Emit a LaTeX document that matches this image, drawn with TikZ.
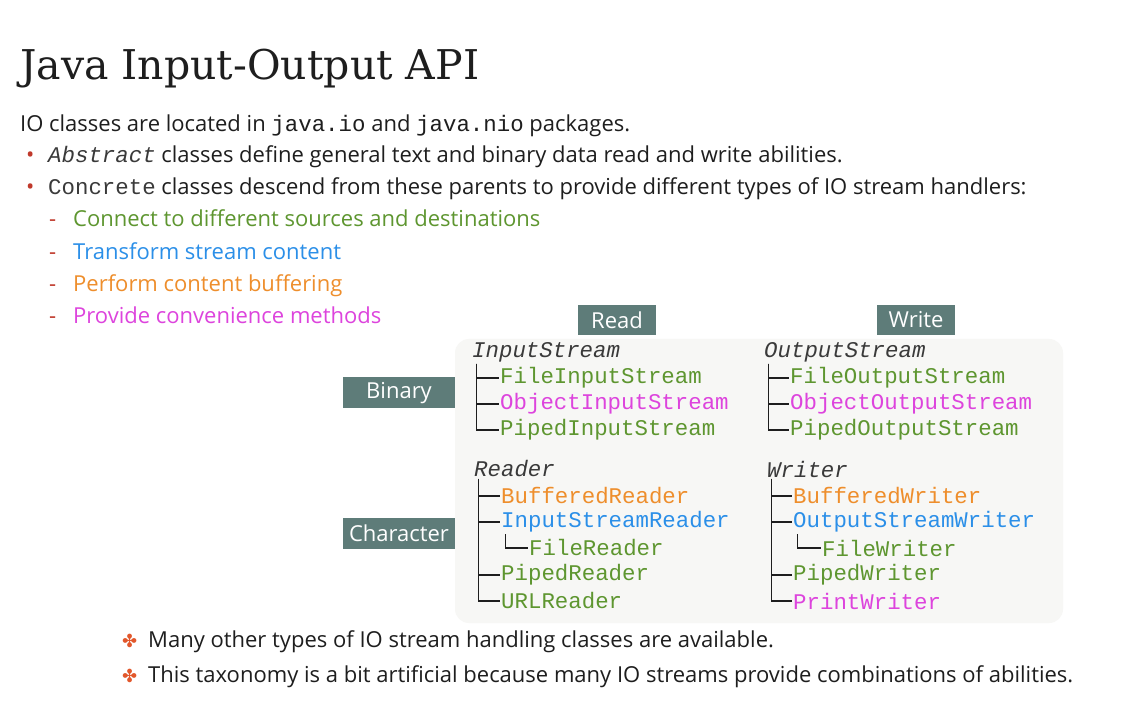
\documentclass[tikz,border=0pt]{standalone}
\usepackage{fontspec}
\newfontfamily\slidefont{Open Sans}
\newfontfamily\codefont{Liberation Mono}
\newfontfamily\titlefont{DejaVu Serif}
\newfontfamily\symfont{DejaVu Sans}

\definecolor{ink}{HTML}{1E1E1E}
\definecolor{codegray}{HTML}{3A3A3A}
\definecolor{slate}{HTML}{5E7C79}
\definecolor{panel}{HTML}{F7F7F5}
\definecolor{bulletred}{HTML}{C0392B}
\definecolor{starred}{HTML}{E2572B}
\definecolor{grn}{HTML}{5E9630}
\definecolor{blu}{HTML}{2B8FE8}
\definecolor{org}{HTML}{EE8E2C}
\definecolor{mag}{HTML}{DD44DD}

\newcommand{\code}[1]{{\codefont\fontsize{22.4}{26}\selectfont #1}}

\begin{document}
\begin{tikzpicture}[x=1pt,y=-1pt]

	\tikzset{txt/.style={
				anchor=base west,inner sep=0pt,text=ink,
				font=\slidefont\fontsize{22}{26}\selectfont}
	}
	\tikzset{hdr/.style={
				fill=slate,text=white,inner sep=0pt,
				minimum width=78pt,minimum height=30pt,
				font=\slidefont\fontsize{22}{26}\selectfont}
	}
	\tikzset{cls/.style={
				anchor=west,inner sep=1.5pt,
				font=\codefont\fontsize{22.4}{26}\selectfont}
	}
	\tikzset{base cls/.style={
				cls,text=codegray,
				font=\codefont\itshape\fontsize{22.4}{26}\selectfont}
	}
	\tikzset{tree/.style={draw=ink,line width=1.5pt}}

	\useasboundingbox[fill=white] (0,0) rectangle (1133,708);

	% title and bullet text
	\node[anchor=base west,inner sep=0pt,text=ink,font=\titlefont\fontsize{41}{48}\selectfont] (title) at (20,80) {Java Input-Output API};

	\node[txt] (intro) at (20,132) {IO classes are located in \code{java.io} and \code{java.nio} packages.};

	\node[txt,text=bulletred] (b1) at (26,163) {•};
	\node[txt] (abs) at (48,163) {\textcolor{codegray}{\code{\itshape Abstract}} classes define general text and binary data read and write abilities.};
	\node[txt,text=bulletred] (b2) at (26,195) {•};
	\node[txt] (con) at (48,195) {\textcolor{codegray}{\code{Concrete}} classes descend from these parents to provide different types of IO stream handlers:};

	\foreach \n/\c/\y/\t in {s1/grn/227/Connect to different sources and destinations,
			s2/blu/260/Transform stream content,
			s3/org/292/Perform content buffering,
			s4/mag/324/Provide convenience methods} {
			\node[txt,text=bulletred] (d\n) at (49,\y) {-};
			\node[txt,text=\c] (\n) at (73,\y) {\t};
		}

	% panel and headers
	\fill[panel,rounded corners=14pt] (455,339) rectangle (1063,623);

	\node[hdr] (read) at (617,320) {Read};
	\node[hdr] (write) at (916,320) {Write};
	\node[hdr,minimum width=112pt,minimum height=31pt] (binary) at (399,393) {Binary};
	\node[hdr,minimum width=112pt,minimum height=31pt] (character) at (399,533) {Character};

	% binary streams
	\node[base cls] (is) at (470.5,352) {InputStream};
	\foreach \n/\c/\y/\t in {fis/grn/378/FileInputStream, ois/mag/404/ObjectInputStream, pis/grn/430/PipedInputStream} {
			\node[cls,text=\c] (\n) at (498.5,\y) {\t};
			\draw[tree] ([xshift=6pt]is.south west) |- (\n.west);
		}

	\node[base cls] (os) at (762.5,352) {OutputStream};
	\foreach \n/\c/\y/\t in {fos/grn/378/FileOutputStream, oos/mag/404/ObjectOutputStream, pos/grn/430/PipedOutputStream} {
			\node[cls,text=\c] (\n) at (788.5,\y) {\t};
			\draw[tree] ([xshift=6pt]os.south west) |- (\n.west);
		}

	% character streams
	\node[base cls] (rd) at (472.5,469) {Reader};
	\foreach \n/\c/\y/\t in {br/org/496/BufferedReader, isr/blu/522/InputStreamReader, pr/grn/575/PipedReader, ur/grn/601/URLReader} {
			\node[cls,text=\c] (\n) at (499.5,\y) {\t};
			\draw[tree] ([xshift=6pt]rd.south west) |- (\n.west);
		}
	\node[cls,text=grn] (fr) at (527.5,548) {FileReader};
	\draw[tree] ([xshift=6pt]isr.south west) |- (fr.west);

	\node[base cls] (wr) at (765.5,469) {Writer};
	\foreach \n/\c/\y/\t in {bw/org/496/BufferedWriter, osw/blu/522/OutputStreamWriter, pw/grn/575/PipedWriter, prw/mag/601/PrintWriter} {
			\node[cls,text=\c] (\n) at (791.5,\y) {\t};
			\draw[tree] ([xshift=6pt]wr.south west) |- (\n.west);
		}
	\node[cls,text=grn] (fw) at (820.5,548) {FileWriter};
	\draw[tree] ([xshift=6pt]osw.south west) |- (fw.west);

	% notes
	\node[txt,text=starred,font=\symfont\fontsize{18}{22}\selectfont] (st1) at (122,647) {✤};
	\node[txt] (note1) at (148,647) {Many other types of IO stream handling classes are available.};
	\node[txt,text=starred,font=\symfont\fontsize{18}{22}\selectfont] (st2) at (122,682) {✤};
	\node[txt] (note2) at (148,682) {This taxonomy is a bit artificial because many IO streams provide combinations of abilities.};

\end{tikzpicture}
\end{document}
